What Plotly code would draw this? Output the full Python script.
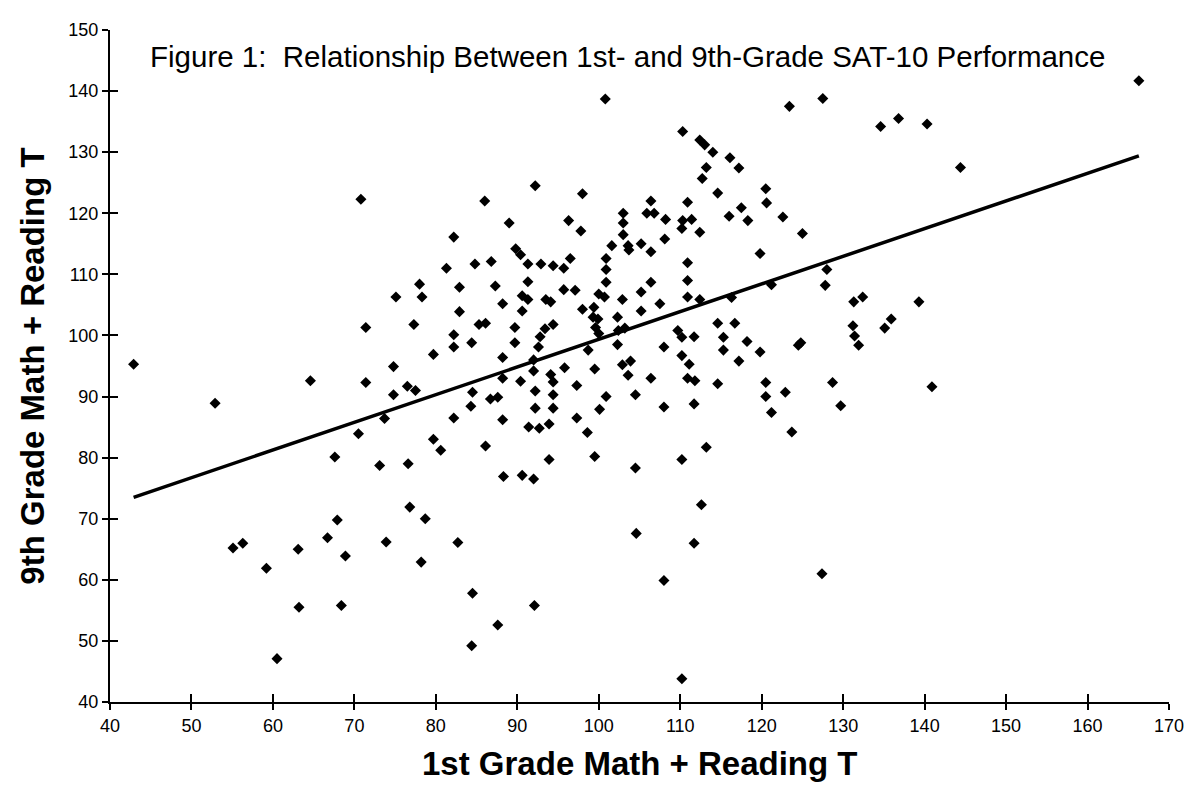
import plotly.graph_objects as go

# 1st-grade (x) and 9th-grade (y) Math + Reading T scores
grade1 = [
    70.8, 100.8, 92.2, 98.0, 86.0, 82.2, 89.0, 96.3, 97.8, 103.0, 105.9, 106.4,
    103.0, 103.0, 101.6, 103.6, 103.7, 105.2, 106.4, 100.9, 100.9, 96.5, 89.8, 90.4,
    91.3, 92.9, 94.4, 95.7, 86.8, 84.8, 81.3,
    123.4, 127.5, 134.6, 136.8, 110.3, 112.4, 113.0, 114.0, 116.1, 117.2, 113.2, 112.7,
    114.6, 120.5, 120.6, 117.5, 116.0, 118.3, 122.6, 125.0, 119.8, 110.9, 110.9, 106.8,
    108.2, 110.3, 111.4, 110.2, 112.4, 108.1, 128.0,
    166.3, 140.3, 144.4,
    42.9, 52.9, 64.6, 71.4, 71.4, 73.7, 70.5, 67.6, 73.1,
    100.9, 78.0, 75.1, 78.3, 82.9, 87.3, 91.3, 90.6, 91.3, 93.5, 94.1, 95.7, 97.1,
    100.0, 100.7, 102.9, 105.2, 106.4, 88.2, 90.6, 82.9, 98.0, 99.4, 99.3, 99.9, 99.6,
    100.0, 102.3, 105.2, 77.3, 85.3, 86.1, 89.7, 94.4, 93.4, 92.8, 102.4, 103.2, 82.2,
    82.2, 84.4, 89.7, 92.6, 98.7, 102.3, 79.7, 88.2, 92.0, 74.8, 92.0, 95.8, 99.5,
    102.9, 103.9, 103.6, 106.4, 88.2, 94.1, 94.4, 90.4, 97.3, 76.5, 77.5, 74.8, 84.5,
    92.2, 94.4, 86.7, 87.6, 100.9, 104.5, 84.3, 92.2, 94.4, 100.1, 82.2, 88.2, 97.3,
    91.4, 92.7, 93.9, 98.6, 79.7, 80.6, 86.1, 99.5, 93.9, 76.6, 104.5, 88.3, 90.6, 92.0,
    110.9, 110.9, 107.5, 112.4, 116.3, 121.2, 127.8, 131.3, 132.4, 114.6, 116.7, 109.7,
    110.2, 111.7, 115.3, 118.2, 108.0, 115.3, 119.8, 124.5, 124.8, 131.2, 131.4, 131.9,
    135.1, 135.9, 110.2, 111.1, 117.2, 110.9, 111.8, 114.6, 120.5, 128.7, 122.9, 120.5,
    108.0, 111.7, 121.2, 129.7, 123.7, 113.2, 110.2,
    139.3, 140.9,
    55.1, 56.3, 59.2, 63.1, 66.7, 67.9, 68.9, 73.9, 63.2, 68.4, 60.5,
    76.8, 78.7, 82.7, 78.2, 84.5, 92.1, 87.6, 84.4, 104.6,
    112.6, 111.7, 108.0, 127.4, 110.2,
]
grade9 = [
    122.3, 138.7, 124.5, 123.2, 122.0, 116.1, 118.4, 118.8, 117.1, 120.0, 120.0, 122.0,
    118.4, 116.5, 114.7, 114.7, 114.0, 115.0, 113.7, 112.6, 110.8, 112.6, 114.2, 113.2,
    111.7, 111.7, 111.4, 111.0, 112.1, 111.7, 111.0,
    137.5, 138.8, 134.2, 135.5, 133.4, 132.0, 131.2, 130.0, 129.1, 127.4, 127.5, 125.7,
    123.3, 124.0, 121.7, 120.9, 119.5, 118.8, 119.4, 116.7, 113.4, 121.8, 111.9, 120.0,
    119.0, 118.8, 119.0, 117.5, 116.9, 115.8, 110.8,
    141.7, 134.6, 127.5,
    95.3, 88.9, 92.6, 101.3, 92.3, 86.4, 83.9, 80.1, 78.7,
    108.7, 108.4, 106.3, 106.3, 107.9, 108.1, 108.8, 106.5, 105.9, 105.9, 105.5, 107.5, 107.4,
    106.8, 106.3, 105.9, 107.1, 108.7, 105.2, 104.0, 103.9, 104.3, 104.6, 103.0, 102.7, 101.3,
    100.3, 103.0, 104.0, 101.8, 101.8, 102.0, 101.3, 101.8, 101.1, 99.8, 100.8, 101.2, 100.1,
    98.1, 98.8, 98.8, 98.1, 97.6, 98.5, 96.9, 96.4, 96.0, 94.9, 94.2, 94.7, 94.5,
    95.2, 95.8, 93.5, 93.0, 93.0, 93.6, 92.4, 92.5, 91.8, 91.7, 91.0, 90.3, 90.7,
    90.9, 90.3, 89.6, 89.9, 90.0, 90.3, 88.4, 88.1, 88.1, 87.9, 86.5, 86.2, 86.5,
    85.0, 84.8, 85.5, 84.1, 83.0, 81.2, 81.9, 80.2, 79.7, 79.0, 78.3, 76.9, 77.1, 76.5,
    109.0, 106.3, 105.2, 105.9, 106.2, 108.3, 108.2, 105.5, 106.3, 102.0, 102.0, 100.8,
    99.7, 99.8, 99.7, 99.0, 98.1, 97.6, 97.3, 98.4, 98.8, 101.6, 99.9, 98.4,
    101.2, 102.7, 96.7, 95.3, 95.8, 93.0, 92.6, 92.1, 92.3, 92.3, 90.7, 90.0,
    88.3, 88.8, 87.4, 88.5, 84.2, 81.7, 79.7,
    105.5, 91.6,
    65.2, 66.0, 61.9, 65.0, 66.9, 69.8, 63.9, 66.2, 55.5, 55.8, 47.1,
    71.9, 70.0, 66.1, 62.9, 57.8, 55.8, 52.6, 49.2, 67.6,
    72.3, 66.0, 59.9, 61.0, 43.8,
]

# Trend line end points
trend_x = [42.9, 166.3]
trend_y = [73.5, 129.4]

x_ticks = list(range(40, 171, 10))
y_ticks = list(range(40, 151, 10))

title_text = "Figure 1:  Relationship Between 1st- and 9th-Grade SAT-10 Performance"
x_title = "1st Grade Math + Reading T"
y_title = "9th Grade Math + Reading T"

FONT = "Arial, Liberation Sans, sans-serif"

fig = go.Figure()
fig.add_trace(go.Scatter(
    x=grade1, y=grade9, mode="markers",
    marker=dict(symbol="diamond", size=8.5, color="black"),
    showlegend=False, hoverinfo="x+y",
))
fig.add_trace(go.Scatter(
    x=trend_x, y=trend_y, mode="lines",
    line=dict(color="black", width=3.5),
    showlegend=False, hoverinfo="skip",
))
# invisible trace for overlay axes (inner half of crossing ticks)
fig.add_trace(go.Scatter(x=[None], y=[None], xaxis="x2", yaxis="y2",
                         showlegend=False, hoverinfo="skip"))

axis_common = dict(
    showgrid=False, zeroline=False, showline=True, linecolor="black", linewidth=2,
    ticks="outside", ticklen=6, tickwidth=2, tickcolor="black",
    tickfont=dict(family=FONT, size=18, color="black"),
)

fig.update_layout(
    width=1188, height=789,
    margin=dict(l=102, r=20, t=12, b=95),
    paper_bgcolor="white", plot_bgcolor="white",
    xaxis=dict(range=[40, 170], tickvals=x_ticks, **axis_common),
    yaxis=dict(range=[40, 150], tickvals=y_ticks, **axis_common),
    xaxis2=dict(range=[40, 170], tickvals=x_ticks, overlaying="x", anchor="y",
                side="bottom", showgrid=False, zeroline=False, showline=False,
                ticks="inside", ticklen=8, tickwidth=2, tickcolor="black",
                showticklabels=False),
    yaxis2=dict(range=[40, 150], tickvals=y_ticks, overlaying="y", anchor="x",
                side="left", showgrid=False, zeroline=False, showline=False,
                ticks="inside", ticklen=8, tickwidth=2, tickcolor="black",
                showticklabels=False),
    annotations=[
        dict(text=title_text, xref="paper", yref="paper", x=0.489, y=0.961,
             showarrow=False, xanchor="center", yanchor="middle",
             font=dict(family=FONT, size=29.5, color="black")),
        dict(text="<b>" + x_title + "</b>", xref="paper", yref="paper",
             x=0.5, y=-0.092, showarrow=False, xanchor="center", yanchor="middle",
             font=dict(family=FONT, size=33, color="black")),
        dict(text="<b>" + y_title + "</b>", xref="paper", yref="paper",
             x=-0.074, y=0.5, showarrow=False, xanchor="center", yanchor="middle",
             textangle=-90, font=dict(family=FONT, size=33, color="black")),
    ],
)

fig.write_html("out.html")
